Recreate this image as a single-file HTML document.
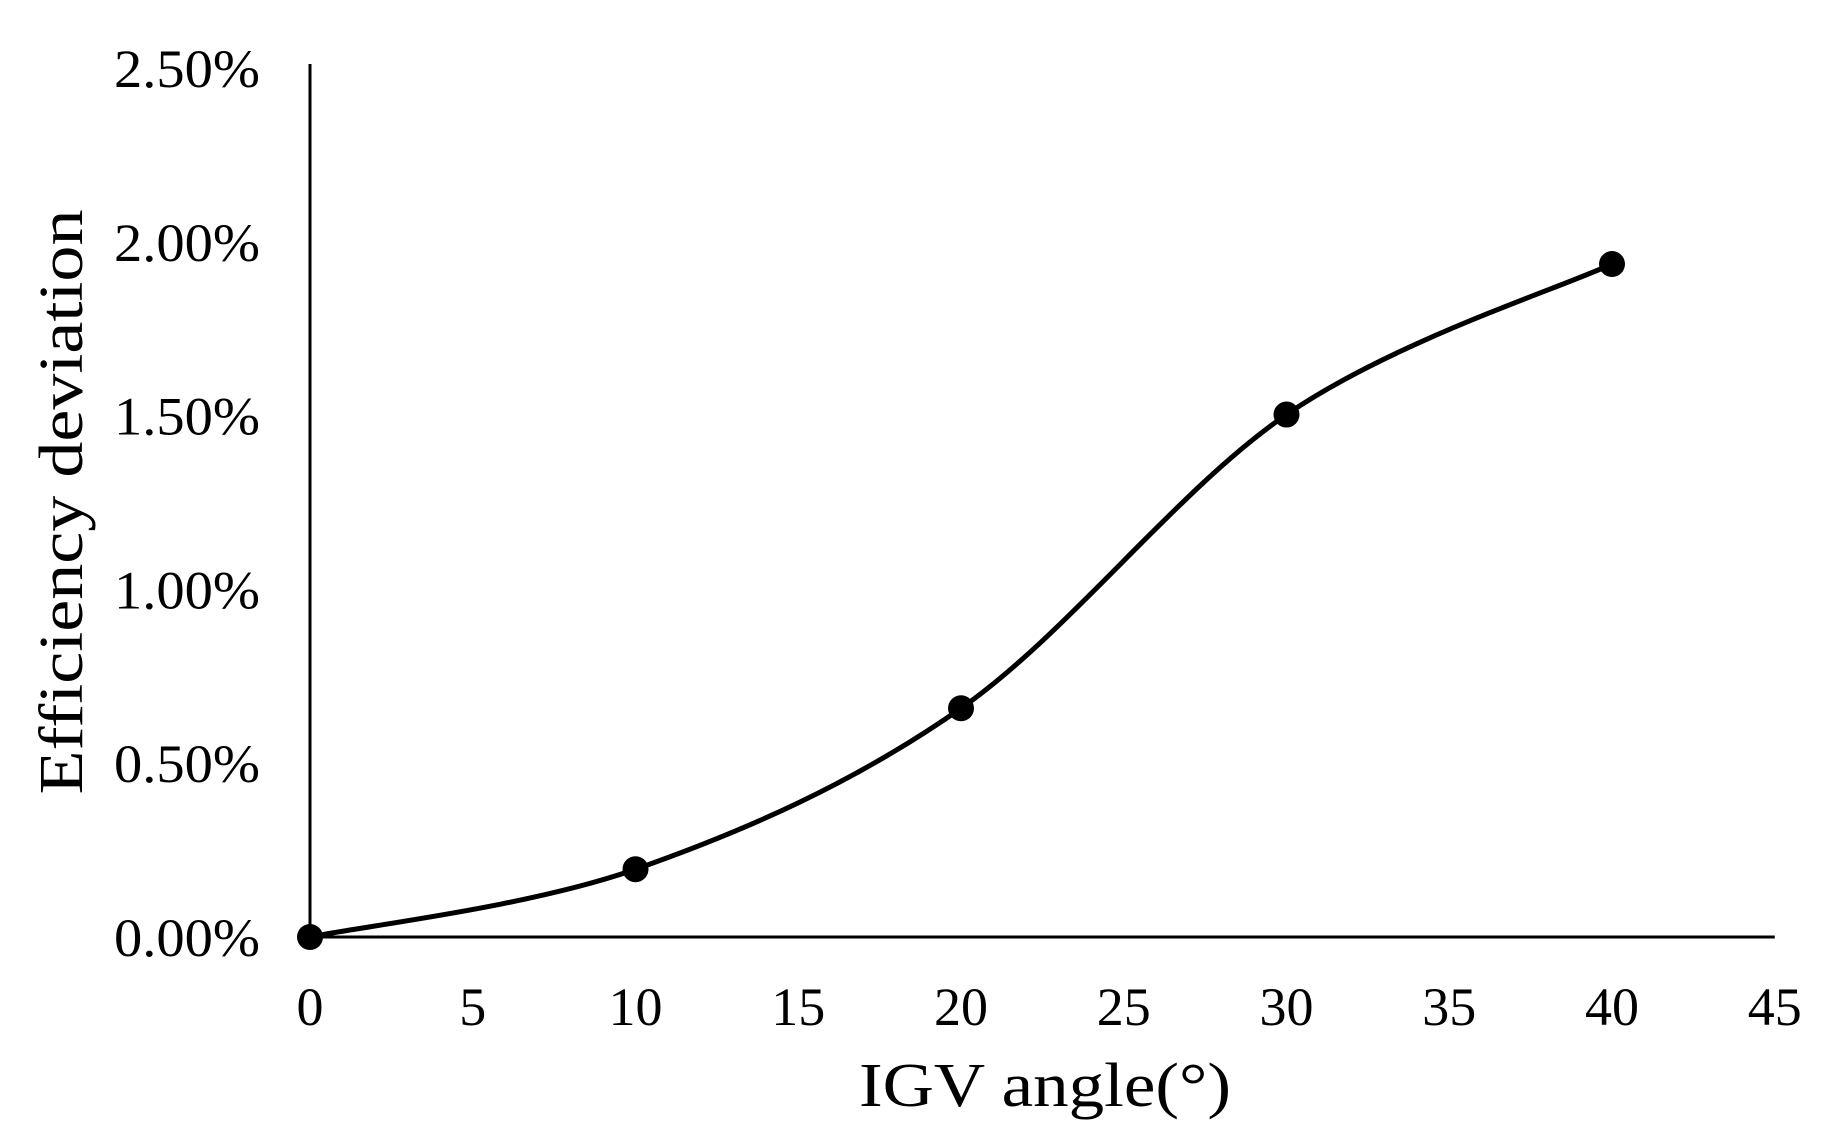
<!DOCTYPE html>
<html><head><meta charset="utf-8"><style>
html,body{margin:0;padding:0;background:#fff}
svg{display:block}
text{font-family:"Liberation Serif",serif;fill:#000}
</style></head><body>
<svg id="chart" width="1826" height="1136" viewBox="0 0 1826 1136">
<g id="axes"></g>
<g id="series"></g>
<text x="1045" y="1106" font-size="62" text-anchor="middle" textLength="372" lengthAdjust="spacingAndGlyphs">IGV angle(°)</text>
<text transform="translate(82,502) rotate(-90)" font-size="62" text-anchor="middle" textLength="585" lengthAdjust="spacingAndGlyphs">Efficiency deviation</text>
</svg>
<script>
const xValues = [0, 10, 20, 30, 40];
const yValues = [0.0, 0.195, 0.658, 1.503, 1.936];
const xTicks = [0, 5, 10, 15, 20, 25, 30, 35, 40, 45];
const yTicks = [0, 0.5, 1.0, 1.5, 2.0, 2.5];
const yTickLabels = ["0.00%", "0.50%", "1.00%", "1.50%", "2.00%", "2.50%"];

const NS = "http://www.w3.org/2000/svg";
const X0 = 310, XS = 32.55, Y0 = 937, Y25 = 68;
function sx(v){ return X0 + v * XS; }
function sy(v){ return Y0 - v / 2.5 * (Y0 - Y25); }
function mk(tag, attrs, parent){
  const e = document.createElementNS(NS, tag);
  for (const k in attrs) e.setAttribute(k, attrs[k]);
  parent.appendChild(e);
  return e;
}
const axes = document.getElementById('axes');
const series = document.getElementById('series');

const ya = mk('line', {x1: sx(0), y1: sy(2.5) - 4, x2: sx(0), y2: sy(0), stroke: '#000', 'stroke-width': 3}, axes);


const xa = mk('line', {x1: sx(0), y1: sy(0), x2: sx(45), y2: sy(0), stroke: '#000', 'stroke-width': 3}, axes);



xTicks.forEach(function(t){
  const e = mk('text', {x: sx(t), y: 1025, 'font-size': 54, 'text-anchor': 'middle'}, axes);
  e.textContent = String(t);
  
  
});
yTicks.forEach(function(t, i){
  const e = mk('text', {x: 260, y: sy(t) + 19, 'font-size': 54, 'text-anchor': 'end', textLength: 146, lengthAdjust: 'spacingAndGlyphs'}, axes);
  e.textContent = yTickLabels[i];
  
  
});

// smooth curve (Catmull-Rom)
const pts = xValues.map(function(x, i){ return [sx(x), sy(yValues[i])]; });
let d = 'M' + pts[0][0] + ',' + pts[0][1];
for (let i = 0; i < pts.length - 1; i++) {
  const p0 = pts[i - 1] || pts[i], p1 = pts[i], p2 = pts[i + 1], p3 = pts[i + 2] || pts[i + 1];
  const c1x = p1[0] + (p2[0] - p0[0]) / 6, c1y = p1[1] + (p2[1] - p0[1]) / 6;
  const c2x = p2[0] - (p3[0] - p1[0]) / 6, c2y = p2[1] - (p3[1] - p1[1]) / 6;
  d += ' C' + c1x + ',' + c1y + ' ' + c2x + ',' + c2y + ' ' + p2[0] + ',' + p2[1];
}
const path = mk('path', {d: d, fill: 'none', stroke: '#000', 'stroke-width': 5}, series);



pts.forEach(function(p){
  const c = mk('circle', {cx: p[0], cy: p[1], r: 13, fill: '#000'}, series);
  
  
});
</script>
</body></html>
